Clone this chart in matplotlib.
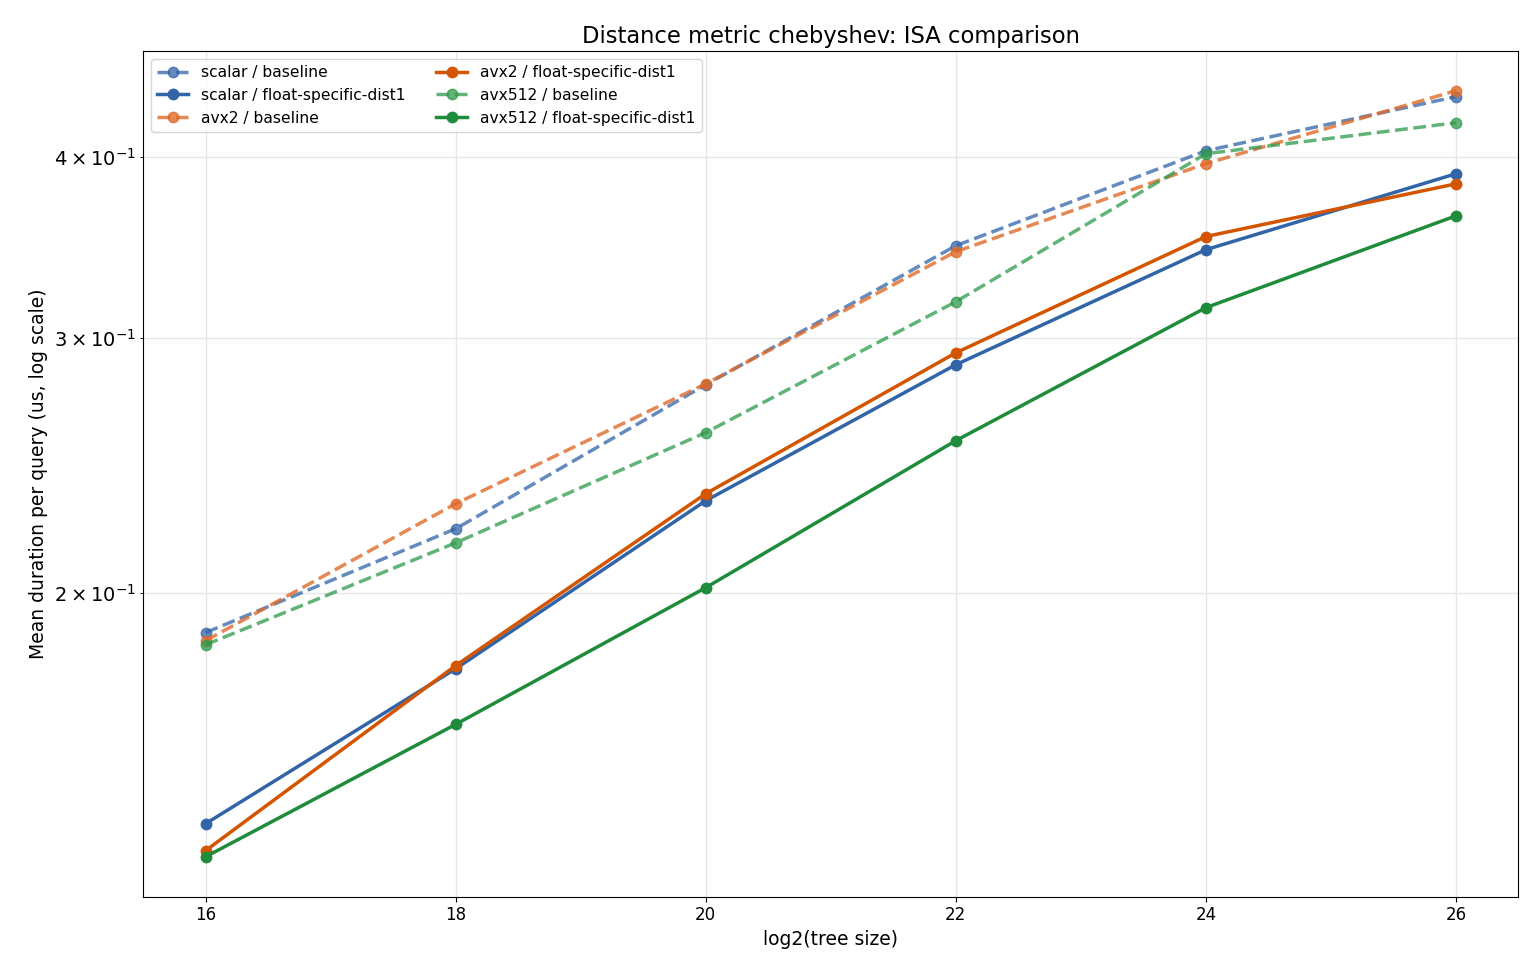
import numpy as np
import matplotlib
matplotlib.use("Agg")
import matplotlib.pyplot as plt

sizes = [16, 18, 20, 22, 24, 26]

scalar_base = [0.1877, 0.2214, 0.2784, 0.3473, 0.4039, 0.4402]
scalar_fsd = [0.1385, 0.1772, 0.2315, 0.2874, 0.3451, 0.3894]
avx2_base = [0.1853, 0.2304, 0.2788, 0.3440, 0.3957, 0.4444]
avx2_fsd = [0.1327, 0.1781, 0.2341, 0.2929, 0.3524, 0.3832]
avx512_base = [0.1841, 0.2165, 0.2580, 0.3177, 0.4020, 0.4223]
avx512_fsd = [0.1314, 0.1622, 0.2016, 0.2547, 0.3147, 0.3642]

blue = "#3264a8"
orange = "#d45500"
green = "#1f8c3b"

fig, ax = plt.subplots(figsize=(15.4, 9.8), dpi=100)

series = [
    ("scalar / baseline", scalar_base, blue, "--", 0.75),
    ("scalar / float-specific-dist1", scalar_fsd, blue, "-", 1.0),
    ("avx2 / baseline", avx2_base, "#e06a28", "--", 0.8),
    ("avx2 / float-specific-dist1", avx2_fsd, orange, "-", 1.0),
    ("avx512 / baseline", avx512_base, "#2e9a4a", "--", 0.75),
    ("avx512 / float-specific-dist1", avx512_fsd, green, "-", 1.0),
]

for label, vals, col, ls, a in series:
    ax.plot(sizes, vals, ls, color=col, alpha=a, lw=2.5, marker="o", ms=7.5, label=label)

ax.set_yscale("log")
ax.set_xlim(15.5, 26.5)
ax.set_ylim(0.1233, 0.4734)
ax.set_xticks(sizes)
ax.grid(True, which="both", color="#e6e6e6", lw=1)
ax.set_axisbelow(True)

ax.set_title("Distance metric chebyshev: ISA comparison", fontsize=16.3)
ax.set_xlabel("log2(tree size)", fontsize=13.5)
ax.set_ylabel("Mean duration per query (us, log scale)", fontsize=13.5)
ax.tick_params(axis="x", labelsize=12)
ax.tick_params(axis="y", which="both", labelsize=14)
ax.legend(loc="upper left", ncol=2, fontsize=11.2, framealpha=0.8)

fig.subplots_adjust(left=0.093, right=0.986, top=0.948, bottom=0.085)
fig.savefig("out.png")
